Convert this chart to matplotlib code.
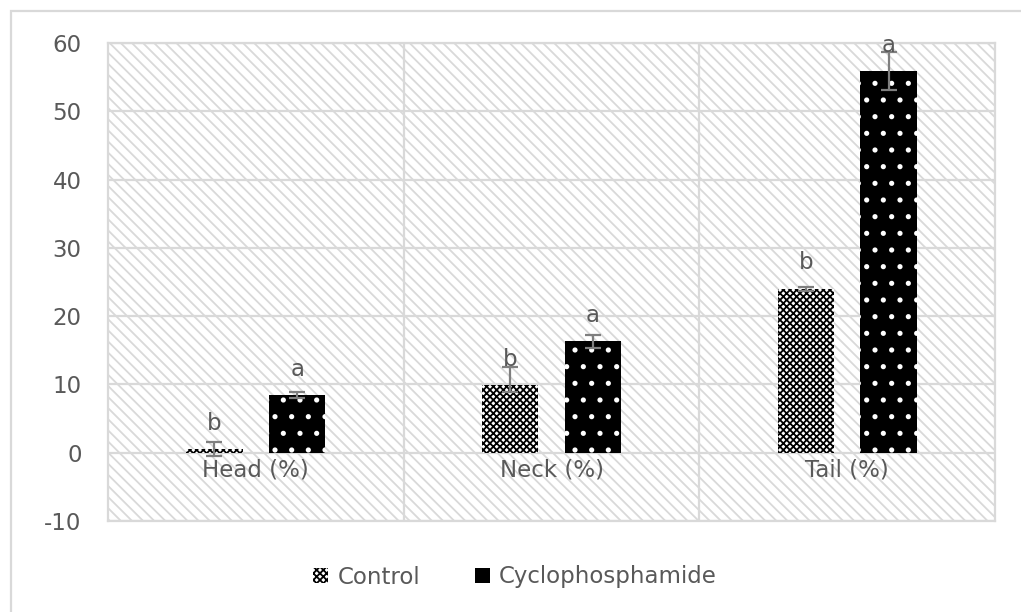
import matplotlib
matplotlib.use("Agg")
import matplotlib.pyplot as plt
import numpy as np
from matplotlib.patches import Rectangle, Patch

# data
categories = ["Head (%)", "Neck (%)", "Tail (%)"]
control = [0.5, 9.9, 24.0]
control_err_lo = [1.0, 1.0, 0.3]
control_err_hi = [1.0, 2.7, 0.3]
cyclo = [8.4, 16.3, 55.9]
cyclo_err = [0.45, 0.9, 2.8]
control_letters = ["b", "b", "b"]
cyclo_letters = ["a", "a", "a"]
series_names = ["Control", "Cyclophosphamide"]

grid_col = "#d9d9d9"
text_col = "#595959"
err_col = "#7f7f7f"
fs = 16.5

plt.rcParams['font.family'] = ['DejaVu Sans']
plt.rcParams['axes.unicode_minus'] = False
plt.rcParams['hatch.linewidth'] = 1.3

W, H = 1021, 612
fig = plt.figure(figsize=(W / 100, H / 100), dpi=100)
ax = fig.add_axes([108 / W, 1 - 521 / H, (995 - 108) / W, (521 - 43) / H])

# hatched background of the plot area
bg = Rectangle((0, 0), 1, 1, transform=ax.transAxes, facecolor="white",
               edgecolor=grid_col, hatch="\\\\\\", lw=0, zorder=0)
ax.add_patch(bg)
ax.patch.set_alpha(0)

x = np.arange(len(categories)) + 0.5
w = 0.19
off = 0.14

ax.bar(x - off, control, w, facecolor="white", edgecolor="black",
       hatch="xxxxx", lw=0, zorder=3)
ax.bar(x + off, cyclo, w, facecolor="black", edgecolor="white",
       hatch=".", lw=0, zorder=3)

ax.errorbar(x - off, control, yerr=[control_err_lo, control_err_hi], fmt="none",
            ecolor=err_col, elinewidth=1.6, capsize=6, capthick=1.6, zorder=4)
ax.errorbar(x + off, cyclo, yerr=cyclo_err, fmt="none",
            ecolor=err_col, elinewidth=1.6, capsize=6, capthick=1.6, zorder=4)

for xi, v, t in zip(x - off, control, control_letters):
    ax.annotate(t, (xi, v), xytext=(0, 14), textcoords="offset points",
                ha="center", va="baseline", fontsize=fs, color=text_col, zorder=5)
for xi, v, t in zip(x + off, cyclo, cyclo_letters):
    ax.annotate(t, (xi, v), xytext=(0, 14), textcoords="offset points",
                ha="center", va="baseline", fontsize=fs, color=text_col, zorder=5)

# category labels sit at the zero line
for xi, c in zip(x, categories):
    ax.annotate(c, (xi, 0), xytext=(0, -4), textcoords="offset points",
                ha="center", va="top", fontsize=fs, color=text_col)

ax.set_xlim(0, 3)
ax.set_ylim(-10, 60)
ax.set_yticks(np.arange(-10, 61, 10))
ax.set_xticks([])
ax.tick_params(axis="y", length=0, pad=19, labelsize=fs, labelcolor=text_col)

ax.grid(axis="y", color=grid_col, lw=1.6, zorder=1)
for xv in [1, 2]:
    ax.axvline(xv, color=grid_col, lw=1.6, zorder=1)
ax.set_axisbelow(True)
for s in ax.spines.values():
    s.set_color(grid_col)
    s.set_linewidth(1.6)

handles = [Patch(facecolor="white", edgecolor="black", hatch="xxxxx", lw=0),
           Patch(facecolor="black", edgecolor="black", lw=0)]
leg = fig.legend(handles, series_names, loc="center",
                 bbox_to_anchor=(515 / W, 1 - 577 / H), ncol=2, frameon=False,
                 fontsize=fs, handlelength=0.65, handleheight=0.65,
                 handletextpad=0.4, columnspacing=2.4)
for t in leg.get_texts():
    t.set_color(text_col)

# outer chart border (only top and left visible in the crop)
fig.add_artist(Rectangle((11 / W, -0.1), 1.2, 1.1 - 11 / H, transform=fig.transFigure,
                         fill=False, edgecolor=grid_col, lw=1.6))

fig.savefig("out.png", dpi=100)
